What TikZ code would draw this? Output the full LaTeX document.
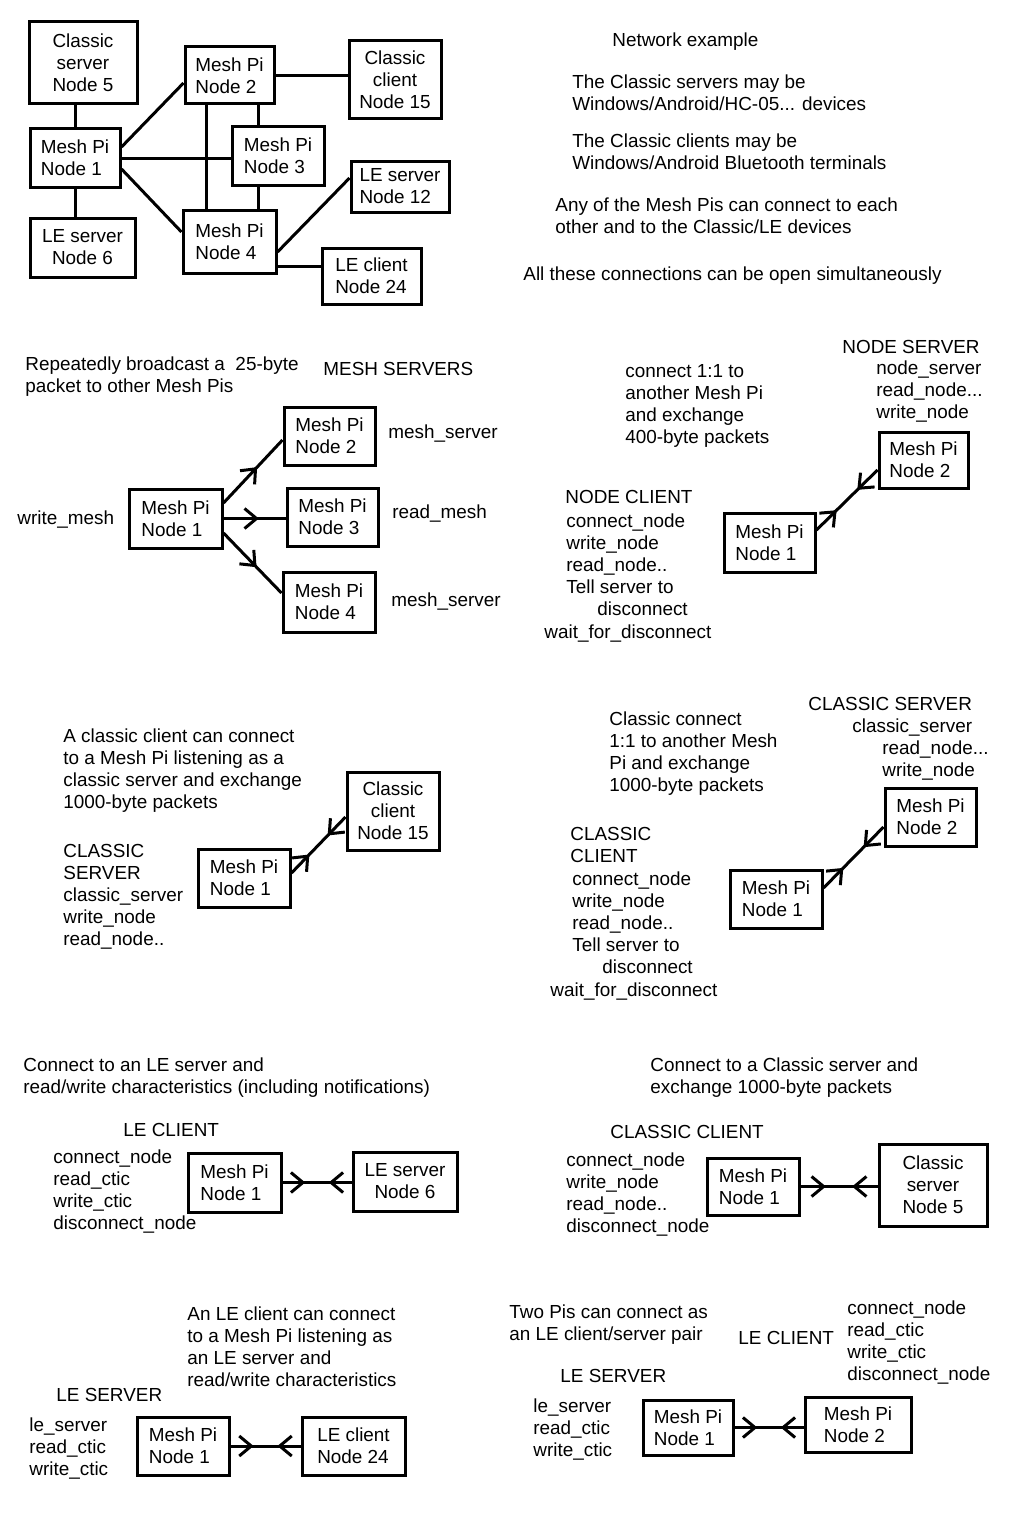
\documentclass[tikz,border=0pt]{standalone}
\usepackage{fontspec}
\setmainfont{Liberation Sans}
\usetikzlibrary{arrows.meta,decorations.markings}
\begin{document}
\begin{tikzpicture}[x=0.5pt,y=-0.5pt,
  every node/.style={font=\fontsize{9.45}{11}\selectfont},
  box/.style={draw, line width=1.5pt, inner sep=0pt, align=left},
  boxc/.style={box, align=center},
  txt/.style={anchor=west, inner sep=0pt, align=left, yshift=-1pt},
  conn/.style={line width=1.5pt},
  bi/.style={conn, postaction={decorate}, decoration={markings,
     mark=at position 0.33 with {\arrow{Straight Barb[length=6pt,width=10pt]}},
     mark=at position 0.67 with {\arrowreversed{Straight Barb[length=6pt,width=10pt]}}}},
  one/.style={conn, postaction={decorate}, decoration={markings,
     mark=at position 0.57 with {\arrow{Straight Barb[length=6pt,width=10pt]}}}}
]
\fill[white] (0,0) rectangle (1024,1536);
\useasboundingbox (0,0) rectangle (1024,1536);

% ---------- Section 1: network ----------
\node[boxc, minimum width=54pt, minimum height=41pt] (n5) at (83,63) {Classic\\server\\Node 5};
\node[box, minimum width=45pt, minimum height=29pt] (n1) at (75,158) {Mesh Pi\\Node 1};
\node[boxc, minimum width=52.5pt, minimum height=29.5pt] (n6) at (82.5,247.5) {LE server\\Node 6};
\node[box, minimum width=44.5pt, minimum height=28.5pt] (n2) at (229.5,75.5) {Mesh Pi\\Node 2};
\node[box, minimum width=46pt, minimum height=29pt] (n3) at (278,156) {Mesh Pi\\Node 3};
\node[box, minimum width=46.5pt, minimum height=31.5pt] (n4) at (229.5,241.5) {Mesh Pi\\Node 4};
\node[boxc, minimum width=46pt, minimum height=39pt] (n15) at (395,80) {Classic\\client\\Node 15};
\node[box, minimum width=49pt, minimum height=25.5pt] (n12) at (400,186.5) {LE server\\Node 12};
\node[box, minimum width=49.5pt, minimum height=28pt] (n24) at (371.5,276) {LE client\\Node 24};

\draw[conn] (n1.north |- n5.south) -- (n1.north);
\draw[conn] (n1.south) -- (n1.south |- n6.north);
\draw[conn] ([yshift=5.5pt]n1.east) -- ([yshift=-3.75pt]n2.west);
\draw[conn] (n1.east) -- (n1.east -| n3.west);
\draw[conn] ([yshift=-5.5pt]n1.east) -- ([yshift=4.75pt]n4.west);
\draw[conn] ([xshift=-11.75pt]n2.south) -- ([xshift=-11.75pt]n4.north);
\draw[conn] ([xshift=14.25pt]n2.south) -- ([xshift=-10pt]n3.north);
\draw[conn] ([xshift=-10pt]n3.south) -- ([xshift=14.25pt]n4.north);
\draw[conn] (n2.east) -- (n2.east -| n15.west);
\draw[conn] ([yshift=-5.25pt]n4.east) -- ([yshift=4.25pt]n12.west);
\coordinate (n4b) at ([yshift=-12.25pt]n4.east);
\draw[conn] (n4b) -- (n4b -| n24.west);

\node[txt] (t1) at (612,40) {Network example};
\node[txt] (t2) at (572,91) {The Classic servers may be\\Windows/Android/HC-05... devices};
\node[txt] (t3) at (572,150) {The Classic clients may be\\Windows/Android Bluetooth terminals};
\node[txt] (t4) at (555,214) {Any of the Mesh Pis can connect to each\\other and to the Classic/LE devices};
\node[txt] (t5) at (523,274) {All these connections can be open simultaneously};

% ---------- Section 2: mesh servers ----------
\node[txt] (r1) at (25,375) {Repeatedly broadcast a\ \ 25-byte\\packet to other Mesh Pis};
\node[txt] (r2) at (323,367) {MESH SERVERS};
\node[txt] (r3) at (17,518) {write\_mesh};
\node[box, minimum width=46.5pt, minimum height=29.5pt] (m1) at (175.5,518.5) {Mesh Pi\\Node 1};
\node[box, minimum width=45.5pt, minimum height=29pt] (m2) at (329.5,436) {Mesh Pi\\Node 2};
\node[box, minimum width=45.5pt, minimum height=29pt] (m3) at (332.5,517) {Mesh Pi\\Node 3};
\node[box, minimum width=46pt, minimum height=30pt] (m4) at (329,602) {Mesh Pi\\Node 4};
\node[txt] (r4) at (388,432) {mesh\_server};
\node[txt] (r5) at (392,512) {read\_mesh};
\node[txt] (r6) at (391,600) {mesh\_server};
\draw[one] ([yshift=7.75pt]m1.east) -- ([yshift=-2pt]m2.west);
\draw[one] (m1.east) -- (m1.east -| m3.west);
\draw[one] ([yshift=-7.25pt]m1.east) -- ([yshift=4.5pt]m4.west);

% ---------- Node client / server ----------
\node[txt] (q1) at (625,403.5) {connect 1:1 to\\another Mesh Pi\\and exchange\\400-byte packets};
\node[txt] (q2) at (842,345) {NODE SERVER};
\node[txt] (q3) at (876,390) {node\_server\\read\_node...\\write\_node};
\node[box, minimum width=44.5pt, minimum height=28pt] (c2) at (923.5,460) {Mesh Pi\\Node 2};
\node[txt] (q4) at (565,495) {NODE CLIENT};
\node[txt] (q5) at (566,552) {connect\_node\\write\_node\\read\_node..\\Tell server to};
\node[txt] (q6) at (597,607) {disconnect};
\node[txt] (q7) at (544,632) {wait\_for\_disconnect};
\node[box, minimum width=45.5pt, minimum height=29.5pt] (c1) at (769.5,542.5) {Mesh Pi\\Node 1};
\draw[bi] ([yshift=6.25pt]c1.east) -- ([yshift=-5pt]c2.west);

% ---------- Section 3: classic server ----------
\node[txt] (a1) at (63,769) {A classic client can connect\\to a Mesh Pi listening as a\\classic server and exchange\\1000-byte packets};
\node[txt] (a2) at (63,895) {CLASSIC\\SERVER\\classic\_server\\write\_node\\read\_node..};
\node[box, minimum width=46pt, minimum height=29pt] (s1) at (244,878) {Mesh Pi\\Node 1};
\node[boxc, minimum width=46pt, minimum height=39pt] (s15) at (393,811) {Classic\\client\\Node 15};
\draw[bi] ([yshift=2.5pt]s1.east) -- ([yshift=-3pt]s15.west);

\node[txt] (b1) at (609,752) {Classic connect\\1:1 to another Mesh\\Pi and exchange\\1000-byte packets};
\node[txt] (b2) at (808,702) {CLASSIC SERVER};
\node[txt] (b3) at (852,726) {classic\_server};
\node[txt] (b4) at (882,759) {read\_node...\\write\_node};
\node[box, minimum width=45.5pt, minimum height=29pt] (d2) at (930.5,817) {Mesh Pi\\Node 2};
\node[txt] (b5) at (570,843) {CLASSIC\\CLIENT};
\node[txt] (b6) at (572,910) {connect\_node\\write\_node\\read\_node..\\Tell server to};
\node[txt] (b7) at (602,965) {disconnect};
\node[txt] (b8) at (550,990) {wait\_for\_disconnect};
\node[box, minimum width=46pt, minimum height=29pt] (d1) at (776,899) {Mesh Pi\\Node 1};
\draw[bi] ([yshift=5.5pt]d1.east) -- ([yshift=-5pt]d2.west);

% ---------- Section 4 ----------
\node[txt] (e1) at (23,1075.5) {Connect to an LE server and\\read/write characteristics (including notifications)};
\node[txt] (e2) at (123,1128) {LE CLIENT};
\node[txt] (e3) at (53,1189.5) {connect\_node\\read\_ctic\\write\_ctic\\disconnect\_node};
\node[box, minimum width=46.5pt, minimum height=29.5pt] (u1) at (234.5,1182.5) {Mesh Pi\\Node 1};
\node[boxc, minimum width=52pt, minimum height=29.5pt] (u6) at (405,1181.5) {LE server\\Node 6};
\draw[bi] (u1.east) -- (u1.east -| u6.west);

\node[txt] (f1) at (650,1075.5) {Connect to a Classic server and\\exchange 1000-byte packets};
\node[txt] (f2) at (610,1130) {CLASSIC CLIENT};
\node[txt] (f3) at (566,1193) {connect\_node\\write\_node\\read\_node..\\disconnect\_node};
\node[box, minimum width=46pt, minimum height=28.5pt] (v1) at (753,1186.5) {Mesh Pi\\Node 1};
\node[boxc, minimum width=54pt, minimum height=41pt] (v5) at (933,1185) {Classic\\server\\Node 5};
\draw[bi] (v1.east) -- (v1.east -| v5.west);

% ---------- Section 5 ----------
\node[txt] (g1) at (187,1345) {An LE client can connect\\to a Mesh Pi listening as\\an LE server and\\read/write characteristics};
\node[txt] (g2) at (56,1393) {LE SERVER};
\node[txt] (g3) at (29,1447) {le\_server\\read\_ctic\\write\_ctic};
\node[box, minimum width=46pt, minimum height=29pt] (w1) at (183,1446) {Mesh Pi\\Node 1};
\node[box, minimum width=51.5pt, minimum height=29pt] (w24) at (353.5,1446) {LE client\\Node 24};
\draw[bi] (w1.east) -- (w1.east -| w24.west);

\node[txt] (h1) at (509,1323) {Two Pis can connect as\\an LE client/server pair};
\node[txt] (h2) at (738,1336) {LE CLIENT};
\node[txt] (h3) at (847,1341) {connect\_node\\read\_ctic\\write\_ctic\\disconnect\_node};
\node[txt] (h4) at (560,1374) {LE SERVER};
\node[txt] (h5) at (533,1428) {le\_server\\read\_ctic\\write\_ctic};
\node[box, minimum width=45pt, minimum height=27.5pt] (x1) at (688,1427.5) {Mesh Pi\\Node 1};
\node[box, minimum width=53pt, minimum height=27.5pt] (x2) at (858,1424.5) {Mesh Pi\\Node 2};
\draw[bi] (x1.east) -- (x1.east -| x2.west);
\end{tikzpicture}
\end{document}
